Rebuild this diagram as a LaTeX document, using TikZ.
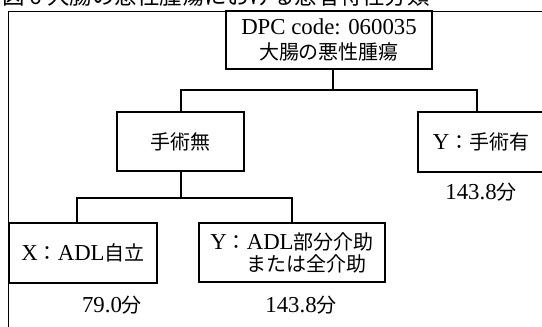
\documentclass[tikz,border=0pt]{standalone}
\usepackage{fontspec}
\setmainfont{Liberation Serif}[Scale=1.14]
\newfontfamily\jp{Noto Sans CJK JP}
\newcommand\J[1]{{\jp #1}}
\begin{document}
\begin{tikzpicture}[x=1pt,y=-1pt,
  box/.style={draw,line width=2pt,inner sep=0pt,align=center,font=\fontsize{20}{25}\selectfont},
  conn/.style={line width=2pt},
  lbl/.style={inner sep=0pt,font=\fontsize{20}{24}\selectfont}]
\useasboundingbox (0,0) rectangle (542,327);
% cut-off title
\node[anchor=base west,inner sep=0pt,font=\jp\fontsize{22.5}{22.5}\selectfont] (title) at (2,4.5) {図 6 大腸の悪性腫瘍における患者特性分類};
% outer frame
\draw[line width=0.8pt] (8,327) -- (8,11) -- (542,11);
% boxes
\node[box,minimum width=206,minimum height=58] (top) at (329,40) {DPC code: 060035\\\J{大腸の悪性腫瘍}};
\node[box,minimum width=127,minimum height=59] (no) at (180.5,141.5) {\J{手術無}};
\node[box,minimum width=126,minimum height=60] (yes) at (481,141.5) {Y\J{：手術有}};
\node[box,minimum width=148,minimum height=60] (x) at (83,253) {X\J{：}ADL\J{自立}};
\node[box,minimum width=186,minimum height=59,align=left,font=\fontsize{20}{22}\selectfont] (y) at (292,252.5) {Y\J{：}ADL\J{部分介助}\\\phantom{Y\J{：}}\J{または全介助}};
% labels
\node[lbl] (lx) at (112,305) {79.0\J{分}};
\node[lbl] (ly) at (301,305) {143.8\J{分}};
\node[lbl] (lyes) at (481,192) {143.8\J{分}};
% connectors
\coordinate (j1) at ([xshift=4pt]top.south |- 0,90);
\draw[conn] ([xshift=4pt]top.south) -- (j1);
\draw[conn] (no.north) -- (no.north |- j1) -- ([xshift=-4pt]yes.north |- j1) -- ([xshift=-4pt]yes.north);
\coordinate (j2) at ([yshift=-26pt]no.south);
\draw[conn] (no.south) -- (j2);
\draw[conn] ([xshift=-6pt]x.north) -- ([xshift=-6pt]x.north |- j2) -- (y.north |- j2) -- (y.north);
\end{tikzpicture}
\end{document}
